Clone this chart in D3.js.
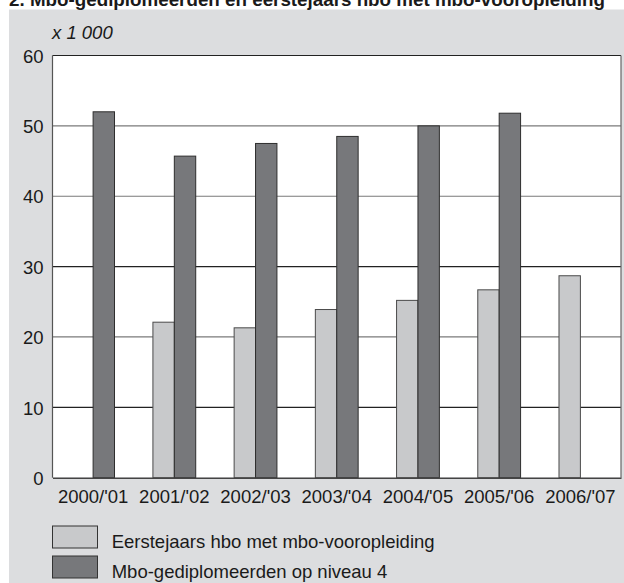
<!DOCTYPE html>
<html>
<head>
<meta charset="utf-8">
<script src="https://cdn.jsdelivr.net/npm/d3@7"></script>
<style>
  html, body { margin: 0; padding: 0; background: #ffffff; }
  svg { display: block; font-family: "Liberation Sans", Arial, sans-serif; }
</style>
</head>
<body>
<svg id="chart" width="624" height="583"></svg>
<script>
const categories = ["2000/'01", "2001/'02", "2002/'03", "2003/'04", "2004/'05", "2005/'06", "2006/'07"];
const eerstejaars = [null, 22.1, 21.3, 23.9, 25.2, 26.7, 28.7];
const mboGediplomeerden = [52.0, 45.7, 47.5, 48.5, 50.0, 51.8, null];
const yTicks = [0, 10, 20, 30, 40, 50, 60];
const seriesNames = ["Eerstejaars hbo met mbo-vooropleiding", "Mbo-gediplomeerden op niveau 4"];
const titleText = "2.  Mbo-gediplomeerden en eerstejaars hbo met mbo-vooropleiding";
const unitText = "x 1 000";

const svg = d3.select("#chart");
const colors = { light: "#c8c9cb", dark: "#77787b", bg: "#dcdddf" };
const fs = 18.5;

const plot = { left: 52.5, right: 621, top: 55.5, bottom: 477.7 };

// background panel
svg.append("rect").attr("x", 9).attr("y", 9.5).attr("width", 615).attr("height", 574).attr("fill", colors.bg);

// title (partly cut off at top, as in the original)
svg.append("text").attr("x", 9).attr("y", 5.5)
  .attr("font-weight", "bold").attr("font-size", 18).attr("fill", "#1a1a1a")
  .attr("textLength", 596).attr("lengthAdjust", "spacingAndGlyphs")
  .text(titleText);

const x = d3.scaleBand().domain(categories).range([plot.left, plot.right]).padding(0);
const y = d3.scaleLinear().domain([0, 60]).range([plot.bottom, plot.top]);

// plot area
svg.append("rect").attr("x", plot.left).attr("y", plot.top)
  .attr("width", plot.right - plot.left).attr("height", plot.bottom - plot.top)
  .attr("fill", "#ffffff");

// gridlines
svg.append("g").selectAll("line").data(yTicks.filter(d => d > 0 && d < 60)).join("line")
  .attr("x1", plot.left).attr("x2", plot.right)
  .attr("y1", d => y(d)).attr("y2", d => y(d))
  .attr("stroke", d => (d === 10 || d === 30) ? "#222" : "#7a7a7a")
  .attr("stroke-width", 1.2);

// y-axis tick labels
const yAxis = d3.axisLeft(y).tickValues(yTicks).tickSize(0).tickPadding(9);
const gy = svg.append("g").attr("transform", `translate(${plot.left},0)`).call(yAxis);
gy.select(".domain").remove();
gy.selectAll("text").attr("font-size", fs).attr("fill", "#1a1a1a")
  .attr("font-family", "Liberation Sans, Arial, sans-serif").attr("dy", "0.36em");

// unit label
svg.append("text").attr("x", 52).attr("y", 38.5)
  .attr("font-size", fs).attr("font-style", "italic").attr("fill", "#1a1a1a").text(unitText);

// bars
const barW = 21.4;
const gBars = svg.append("g");
categories.forEach((c, i) => {
  const cx = x(c) + x.bandwidth() / 2;
  if (eerstejaars[i] != null) {
    gBars.append("rect").attr("x", cx - barW).attr("y", y(eerstejaars[i]))
      .attr("width", barW).attr("height", y(0) - y(eerstejaars[i]))
      .attr("fill", colors.light).attr("stroke", "#4a4a4a").attr("stroke-width", 1);
  }
  if (mboGediplomeerden[i] != null) {
    gBars.append("rect").attr("x", cx).attr("y", y(mboGediplomeerden[i]))
      .attr("width", barW).attr("height", y(0) - y(mboGediplomeerden[i]))
      .attr("fill", colors.dark).attr("stroke", "#2e2e2e").attr("stroke-width", 1);
  }
});

// frame
svg.append("line").attr("x1", plot.left).attr("x2", plot.right).attr("y1", plot.top).attr("y2", plot.top)
  .attr("stroke", "#222").attr("stroke-width", 1.2);
svg.append("line").attr("x1", plot.left).attr("x2", plot.left).attr("y1", plot.top).attr("y2", plot.bottom)
  .attr("stroke", "#555").attr("stroke-width", 1.2);
svg.append("line").attr("x1", plot.right).attr("x2", plot.right).attr("y1", plot.top).attr("y2", plot.bottom)
  .attr("stroke", "#666").attr("stroke-width", 1.2);

// x axis
const xAxis = d3.axisBottom(x).tickSize(0).tickPadding(12);
const gx = svg.append("g").attr("transform", `translate(0,${plot.bottom})`).call(xAxis);
gx.select(".domain").attr("stroke", "#444").attr("stroke-width", 1.4);
gx.selectAll("text").attr("font-size", fs).attr("fill", "#1a1a1a")
  .attr("font-family", "Liberation Sans, Arial, sans-serif").attr("dy", "0.71em");

// legend
const legend = svg.append("g");
const legendItems = [
  { name: seriesNames[0], fill: colors.light, y: 526 },
  { name: seriesNames[1], fill: colors.dark, y: 556 }
];
legendItems.forEach(it => {
  legend.append("rect").attr("x", 52.5).attr("y", it.y).attr("width", 45).attr("height", 22)
    .attr("fill", it.fill).attr("stroke", "#333").attr("stroke-width", 1);
  legend.append("text").attr("x", 111.7).attr("y", it.y + 21.7)
    .attr("font-size", fs).attr("fill", "#1a1a1a").text(it.name);
});
</script>
</body>
</html>
